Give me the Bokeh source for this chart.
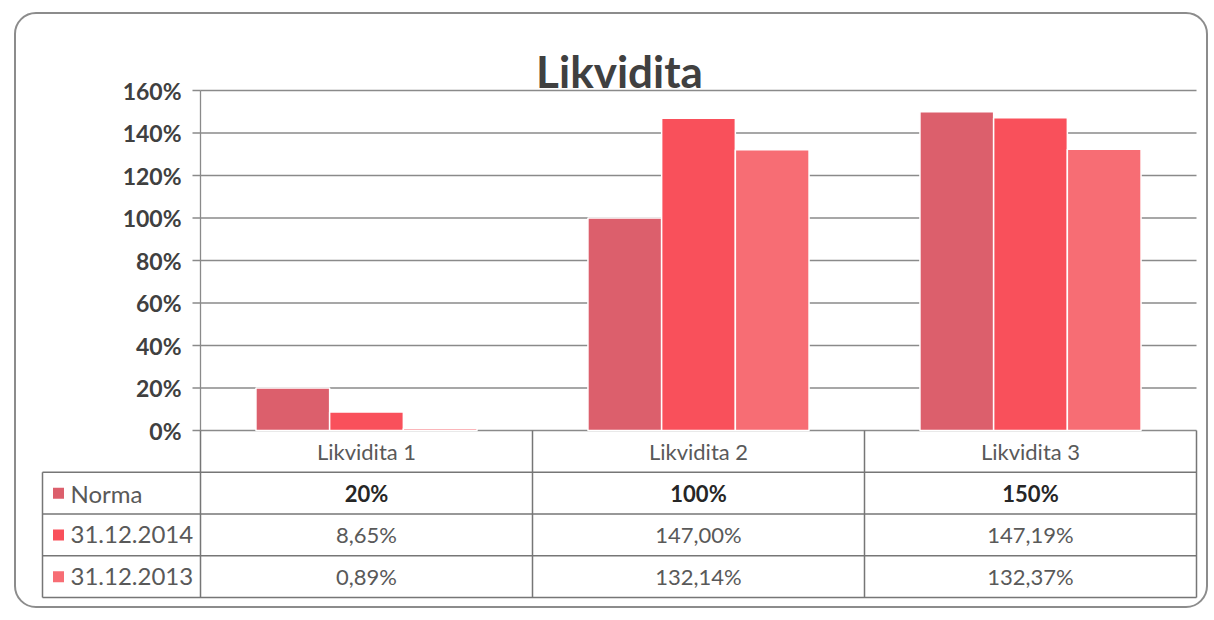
from bokeh.plotting import figure
from bokeh.models import ColumnDataSource, Range1d
from bokeh.transform import dodge
from bokeh.core.properties import value
from bokeh.embed import file_html
from bokeh.resources import INLINE

# ---------------- data ----------------
categories = ["Likvidita 1", "Likvidita 2", "Likvidita 3"]
series = ["Norma", "31.12.2014", "31.12.2013"]
norma = [20, 100, 150]
v2014 = [8.65, 147.00, 147.19]
v2013 = [0.89, 132.14, 132.37]
y_ticks = [0, 20, 40, 60, 80, 100, 120, 140, 160]
y_tick_labels = ["0%", "20%", "40%", "60%", "80%", "100%", "120%", "140%", "160%"]
colors = ["#dc5f6c", "#f9505b", "#f76d74"]

FONT = "Lato"
GRID = "#8a8a8a"
TABLE_LINE = "#767676"

# ---------------- geometry (pixels) ----------------
W, H = 1194, 596
unit = 332.0          # px per category
row_h = 41.75         # px per table row
legend_w = 158.0      # px width of the legend column
pct_px = 2.125        # px per 1 %
frame_w, frame_h = 1158, 525
left_pad = 160.0      # frame left edge to value axis, px
below_zero = 169.0    # 0% line to frame bottom, px
below_table = 2.0     # table bottom to frame bottom, px

x0 = -left_pad / unit
y0 = -below_zero / pct_px
t0 = -below_table / row_h

p = figure(width=W, height=H,
           x_range=Range1d(x0, x0 + frame_w / unit),
           y_range=Range1d(y0, y0 + frame_h / pct_px),
           output_backend="svg", toolbar_location=None,
           x_axis_location=None, y_axis_location=None,
           min_border_left=24, min_border_right=12,
           min_border_top=60, min_border_bottom=11,
           outline_line_color=None,
           background_fill_color=None, border_fill_color=None,
           styles={"border": "2px solid #8c8c8c", "border-radius": "22px",
                   "margin-left": "14px", "margin-top": "12px"})
p.grid.visible = False
p.extra_y_ranges = {"table": Range1d(t0, t0 + frame_h / row_h)}

n_cats = len(categories)
n_rows = len(series)
xc = [i + 0.5 for i in range(n_cats)]

# ---- gridlines, value axis line and ticks ----
p.segment(x0=[0] * len(y_ticks), y0=y_ticks, x1=[n_cats] * len(y_ticks), y1=y_ticks,
          line_color=GRID, line_width=1.3)
p.segment(x0=[0], y0=[y_ticks[0]], x1=[0], y1=[y_ticks[-1]], line_color=GRID, line_width=1.3)
p.segment(x0=[-8.0 / unit] * len(y_ticks), y0=y_ticks, x1=[0] * len(y_ticks), y1=y_ticks,
          line_color=GRID, line_width=1.3)
p.text(x=[-19.0 / unit] * len(y_ticks), y=y_ticks, text=y_tick_labels,
       text_font=value(FONT), text_font_size="23px", text_font_style="bold",
       text_color="#404040", text_align="right", text_baseline="middle")

# ---- bars ----
src = ColumnDataSource(dict(xc=xc, cat=categories, norma=norma, v2014=v2014, v2013=v2013))
bw = 0.222
fields = ["norma", "v2014", "v2013"]
for i, (f, c) in enumerate(zip(fields, colors)):
    p.vbar(x=dodge("xc", (i - 1) * bw), top=f, width=bw, bottom=0,
           source=src, fill_color=c, line_color="white", line_width=1.5)

# ---- title ----
p.title.text = "Likvidita"
p.title.align = "center"
p.title.standoff = -44
p.title.text_font = FONT
p.title.text_font_size = "44px"
p.title.text_font_style = "bold"
p.title.text_color = "#404040"

# ---------------- data table ----------------
leg_left = -legend_w / unit
hy = list(range(n_rows + 1))
p.segment(x0=[leg_left] * len(hy), y0=hy, x1=[n_cats] * len(hy), y1=hy,
          line_color=TABLE_LINE, line_width=1.5, y_range_name="table")
vx = [leg_left] + list(range(n_cats + 1))
vy1 = [n_rows] + [n_rows + 1] * (n_cats + 1)
p.segment(x0=vx, y0=[0] * len(vx), x1=vx, y1=vy1,
          line_color=TABLE_LINE, line_width=1.5, y_range_name="table")

# header row with category names
p.text(x=xc, y=[n_rows + 0.5] * n_cats, text=categories, y_range_name="table",
       text_font=value(FONT), text_font_size="22px", text_color="#595959",
       text_align="center", text_baseline="middle")


def fmt(v, whole):
    if whole:
        return f"{v:.0f}%"
    return f"{v:.2f}".replace(".", ",") + "%"


for j, vals in enumerate([norma, v2014, v2013]):
    first = (j == 0)
    yrow = n_rows - 1 - j + 0.5
    p.text(x=xc, y=[yrow] * n_cats, text=[fmt(v, first) for v in vals], y_range_name="table",
           text_font=value(FONT), text_font_size="22px",
           text_font_style="bold" if first else "normal",
           text_color="#262626" if first else "#595959",
           text_align="center", text_baseline="middle")

# legend column
leg_y = [n_rows - 1 - j + 0.5 for j in range(n_rows)]
p.scatter(x=[-142.0 / unit] * n_rows, y=leg_y, marker="square", size=11,
          fill_color=colors, line_color=None, y_range_name="table")
p.text(x=[-130.0 / unit] * n_rows, y=leg_y, text=series, y_range_name="table",
       text_font=value(FONT), text_font_size="24px", text_color="#595959",
       text_align="left", text_baseline="middle")

open("out.html", "w").write(file_html(p, INLINE))
